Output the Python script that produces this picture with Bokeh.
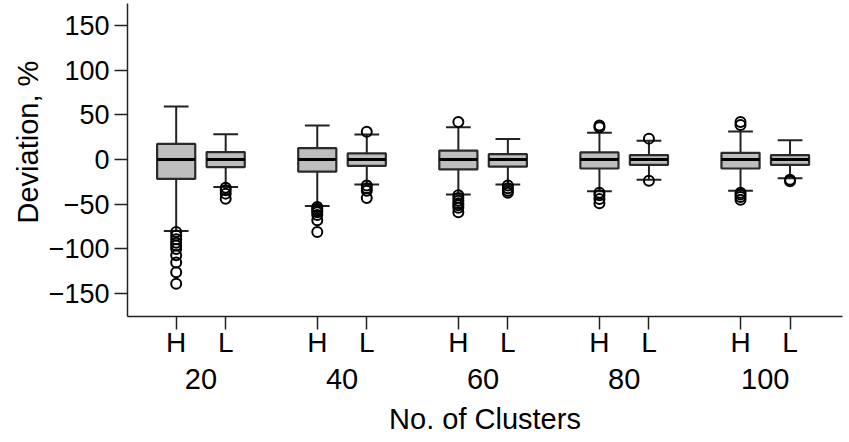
from bokeh.plotting import figure
from bokeh.models import Range1d, FixedTicker, LinearAxis, Title, ColumnDataSource
from bokeh.embed import file_html
from bokeh.resources import INLINE

# ---------------- data ----------------
clusters = ["20", "40", "60", "80", "100"]
methods = ["H", "L"]

# method H box statistics (per cluster count)
h_lower = [-80, -52, -39, -35.5, -35]
h_q1 = [-21.6, -13.4, -11, -10, -10]
h_median = [0, 0, 0, 0, 0]
h_q3 = [17.5, 12.7, 10, 8, 7.5]
h_upper = [59.3, 38, 36, 30, 31.5]
h_outliers = [
    [-81, -85, -89, -93, -96, -100, -107, -115, -126, -139],
    [-53, -55, -57, -59, -62, -68, -81],
    [42, -40, -43, -46, -49, -51, -54, -59],
    [38, 36, -37, -40, -44, -49],
    [42, 38.5, -37, -39, -42, -45],
]

# method L box statistics
l_lower = [-30.7, -28, -28, -22.5, -21]
l_q1 = [-8.4, -7, -8, -6, -6]
l_median = [0, 0, 0, 0, 0]
l_q3 = [8.4, 7, 6, 5, 5]
l_upper = [28.2, 28, 23, 21, 21.5]
l_outliers = [
    [-31.4, -34.4, -38.1, -43.7],
    [31, -29, -32, -35, -43],
    [-29, -32, -35, -37],
    [23.4, -23.6],
    [-22.5, -24.4],
]

y_ticks = [-150, -100, -50, 0, 50, 100, 150]
x_title = "No. of Clusters"
y_title = "Deviation, %"

# ---------------- layout constants ----------------
GROUP_STEP = 57
PAIR_STEP = 20
BOX_W = 15.4
CAP_W = 10
FONT = "Liberation Sans"
LINE = "#222222"

n = len(clusters)
xs_h = [i * GROUP_STEP for i in range(n)]
xs_l = [x + PAIR_STEP for x in xs_h]

xs = xs_h + xs_l
src = ColumnDataSource(dict(
    x=xs,
    lower=h_lower + l_lower, q1=h_q1 + l_q1, med=h_median + l_median,
    q3=h_q3 + l_q3, upper=h_upper + l_upper,
    left=[x - BOX_W / 2 for x in xs], right=[x + BOX_W / 2 for x in xs],
    cl=[x - CAP_W / 2 for x in xs], cr=[x + CAP_W / 2 for x in xs],
))

ox, oy = [], []
for x, vals in zip(xs, h_outliers + l_outliers):
    for v in vals:
        ox.append(x)
        oy.append(v)

p = figure(width=849, height=442, output_backend="svg", toolbar_location=None,
           x_range=Range1d(-19.67, 269.2), y_range=Range1d(-175.5, 174.5),
           min_border_left=127, min_border_right=7, min_border_top=3,
           min_border_bottom=126)
p.outline_line_color = None
p.grid.visible = False
p.background_fill_color = "white"
p.border_fill_color = "white"

# whiskers and caps
for a, b in (("lower", "q1"), ("q3", "upper")):
    p.segment(x0="x", y0=a, x1="x", y1=b, source=src, line_color=LINE, line_width=2)
for c in ("lower", "upper"):
    p.segment(x0="cl", y0=c, x1="cr", y1=c, source=src, line_color=LINE, line_width=2)
# boxes
p.quad(left="left", right="right", bottom="q1", top="q3", source=src,
       fill_color="#bebebe", line_color="#2a2a2a", line_width=2.2)
# medians
p.segment(x0="left", y0="med", x1="right", y1="med", source=src, line_color="black", line_width=3)
# outliers
p.scatter(ox, oy, marker="circle", size=10, fill_color=None, line_color="black", line_width=2)

# y axis
yax = p.yaxis[0]
yax.ticker = FixedTicker(ticks=y_ticks)
yax.major_label_overrides = {t: ("\u2212" + str(abs(t)) if t < 0 else str(t)) for t in y_ticks}
yax.major_tick_out = 13
yax.major_tick_in = 0
yax.minor_tick_line_color = None
yax.major_label_standoff = 5
yax.major_label_text_font = FONT
yax.major_label_text_font_size = "27px"
yax.major_label_text_color = "black"
yax.axis_line_color = LINE
yax.axis_line_width = 1.5
yax.major_tick_line_color = LINE
yax.major_tick_line_width = 1.5

# x axis (H / L)
xax = p.xaxis[0]
xax.ticker = FixedTicker(ticks=xs)
xax.major_label_overrides = {x: m for x, m in zip(xs, [methods[0]] * n + [methods[1]] * n)}
xax.major_tick_out = 13
xax.major_tick_in = 0
xax.minor_tick_line_color = None
xax.major_label_standoff = -3
xax.major_label_text_font = FONT
xax.major_label_text_font_size = "28px"
xax.major_label_text_color = "black"
xax.axis_line_color = LINE
xax.axis_line_width = 1.5
xax.major_tick_line_color = LINE
xax.major_tick_line_width = 1.5

# second x axis: cluster counts + title
gax = LinearAxis(ticker=FixedTicker(ticks=[x + PAIR_STEP // 2 for x in xs_h]))
gax.major_label_overrides = {x + PAIR_STEP // 2: c for x, c in zip(xs_h, clusters)}
gax.axis_line_color = None
gax.major_tick_line_color = None
gax.minor_tick_line_color = None
gax.major_tick_out = 0
gax.major_tick_in = 0
gax.major_label_standoff = 8
gax.major_label_text_font = FONT
gax.major_label_text_font_size = "29px"
gax.major_label_text_color = "black"
gax.axis_label = x_title
gax.axis_label_standoff = 11
gax.axis_label_text_font = FONT
gax.axis_label_text_font_size = "29px"
gax.axis_label_text_font_style = "normal"
gax.axis_label_text_color = "black"
p.add_layout(gax, "below")

# y title as a left panel title (placed higher, like the reference)
p.add_layout(Title(text=y_title, align="left", offset=93, standoff=3,
                   text_font=FONT, text_font_size="29px", text_font_style="normal",
                   text_color="black"), "left")

open("out.html", "w").write(file_html(p, INLINE))
